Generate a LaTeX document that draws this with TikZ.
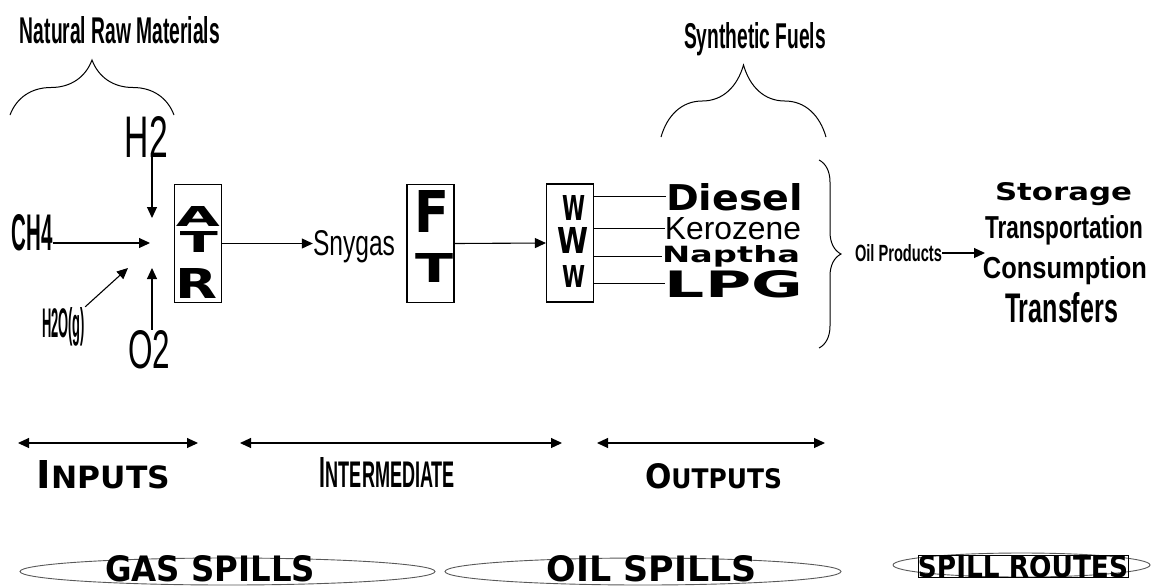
\documentclass[tikz,border=0pt]{standalone}
\usepackage{fontspec}
\usepackage{tikz}
\usetikzlibrary{arrows.meta,decorations.pathreplacing,shapes.geometric}
\newfontfamily\condfont{Liberation Sans}
\newfontfamily\widefont{DejaVu Sans}
\newcommand{\fitto}[3]{\resizebox{#1pt}{#2pt}{#3}}

\begin{document}
\begin{tikzpicture}[x=1pt,y=-1pt,
    txt/.style={inner sep=0pt,anchor=base},
    unitbox/.style={draw,line width=1.1pt,minimum width=47pt,minimum height=118pt,inner sep=0pt},
    arr/.style={line width=1.1pt,-{Triangle[length=11pt,width=10pt]}},
    dbl/.style={line width=1.1pt,{Triangle[length=11pt,width=10pt]}-{Triangle[length=11pt,width=10pt]}},
    brc/.style={line width=1pt,decorate,decoration={brace,amplitude=#1}},
    spill/.style={ellipse,draw=black!65,line width=0.9pt,inner sep=0pt}]
    \useasboundingbox (0,0) rectangle (1156,587);

    % natural raw materials
    \node[txt] (raw) at (120,43) {\fitto{200}{27}{\condfont\bfseries Natural Raw Materials}};
    \draw[brc=55pt] (10,115) -- (174,115);

    % feeds
    \node[txt] (h2) at (146.5,157) {\fitto{43}{41}{\condfont H2}};
    \node[txt] (ch4) at (32.5,250) {\fitto{41}{36}{\condfont\bfseries CH4}};
    \node[txt] (o2) at (149,368) {\fitto{42}{38}{\condfont O2}};
    \node[txt] (h2o) at (63.5,337) {\fitto{43}{30}{\condfont\bfseries H2O(g)}};

    \coordinate (h2end) at (152,218);
    \coordinate (ch4end) at (150,243);
    \coordinate (o2end) at (152,268);
    \coordinate (h2oend) at (128,268);

    \draw[arr] (h2end |- h2.south) -- (h2end);
    \draw[arr] (ch4.east |- ch4end) -- (ch4end);
    \draw[arr] (o2end |- o2.north) -- (o2end);
    \draw[arr] (h2o.north east) -- (h2oend);

    % reformer
    \node[unitbox] (atr) at (198,243.5) {};
    \node[txt] (atr1) at (198,226) {\fitto{44}{20}{\widefont\bfseries A}};
    \node[txt] (atr2) at (199,252) {\fitto{38}{21}{\widefont\bfseries T}};
    \node[txt] (atr3) at (197,298) {\fitto{42}{30}{\widefont\bfseries R}};

    \node[txt] (snygas) at (354,255) {\fitto{82}{25}{\condfont Snygas}};
    \draw[arr] (atr.east) -- (atr.east -| snygas.west);

    % synthesis
    \node[unitbox] (ft) at (430.5,243.5) {};
    \node[txt] (ft1) at (432,232) {\fitto{35}{42}{\widefont\bfseries F}};
    \node[txt] (ft2) at (434,282) {\fitto{38}{29}{\widefont\bfseries T}};

    % upgrading
    \node[unitbox] (mw) at (570,243) {};
    \node[txt] (mw1) at (573.5,220) {\fitto{23}{25}{\widefont\bfseries W}};
    \node[txt] (mw2) at (572.5,253) {\fitto{31}{26}{\widefont\bfseries W}};
    \node[txt] (mw3) at (573.5,287) {\fitto{23}{22}{\widefont\bfseries W}};

    \draw[arr] (ft.east) -- (mw.west);

    % products
    \node[txt] (diesel) at (734.5,210) {\fitto{137}{27}{\widefont\bfseries Diesel}};
    \node[txt] (kero) at (733,239.5) {\fitto{136}{22}{\condfont Kerozene}};
    \node[txt] (naptha) at (731,262.5) {\fitto{138}{17}{\widefont\bfseries Naptha}};
    \node[txt] (lpg) at (734,297) {\fitto{138}{27}{\widefont\bfseries LPG}};

    \draw[line width=1.1pt] (mw.east |- diesel.west) -- (diesel.west);
    \draw[line width=1.1pt] (mw.east |- kero.west) -- (kero.west);
    \draw[line width=1.1pt] (mw.east |- naptha.west) -- (naptha.west);
    \draw[line width=1.1pt] (mw.east |- lpg.west) -- (lpg.west);

    % synthetic fuels
    \draw[brc=72pt] (661,137) -- (826,137);
    \node[txt] (synth) at (755,48) {\fitto{142}{26}{\condfont\bfseries Synthetic Fuels}};

    % oil products
    \draw[brc=22pt] (819,160) -- (819,348);
    \node[txt] (oilprod) at (898.5,261) {\fitto{87}{17}{\condfont\bfseries Oil Products}};
    \coordinate (useend) at (985,253);
    \draw[arr] (oilprod.east |- useend) -- (useend);

    \node[txt] (storage) at (1063.5,200) {\fitto{137}{18}{\widefont\bfseries Storage}};
    \node[txt] (transport) at (1064,238) {\fitto{158}{23}{\condfont\bfseries Transportation}};
    \node[txt] (consume) at (1065,278) {\fitto{164}{22}{\condfont\bfseries Consumption}};
    \node[txt] (transfer) at (1061.5,322) {\fitto{113}{30}{\condfont\bfseries Transfers}};

    % stages
    \coordinate (inl) at (18,443);
    \coordinate (inr) at (198,443);
    \coordinate (midl) at (240,443);
    \coordinate (midr) at (562,443);
    \coordinate (outl) at (597,443);
    \coordinate (outr) at (825,443);

    \draw[dbl] (inl) -- (inr);
    \draw[dbl] (midl) -- (midr);
    \draw[dbl] (outl) -- (outr);

    \node[txt] (inputs) at (103.5,488) {\fitto{133}{28}{\widefont\bfseries I\scalebox{0.8}{NPUTS}}};
    \node[txt] (interm) at (387.5,487) {\fitto{135}{30}{\condfont\bfseries I\scalebox{0.85}{NTERMEDIATE}}};
    \node[txt] (outputs) at (713.5,488) {\fitto{137}{25}{\widefont\bfseries O\scalebox{0.8}{UTPUTS}}};

    % spills
    \node[spill,minimum width=415pt,minimum height=27pt] (gasell) at (227.5,571.5) {};
    \node[txt] (gas) at (210,581) {\fitto{210}{26}{\widefont\bfseries GAS SPILLS}};
    \node[spill,minimum width=396pt,minimum height=27pt] (oilell) at (643,571.5) {};
    \node[txt] (oil) at (652,581) {\fitto{210}{26}{\widefont\bfseries OIL SPILLS}};
    \node[spill,minimum width=257pt,minimum height=24pt] (routeell) at (1021.5,565) {};
    \node[txt,draw,line width=0.6pt] (route) at (1023,577) {\fitto{210}{22}{\widefont\bfseries SPILL ROUTES}};

\end{tikzpicture}
\end{document}
